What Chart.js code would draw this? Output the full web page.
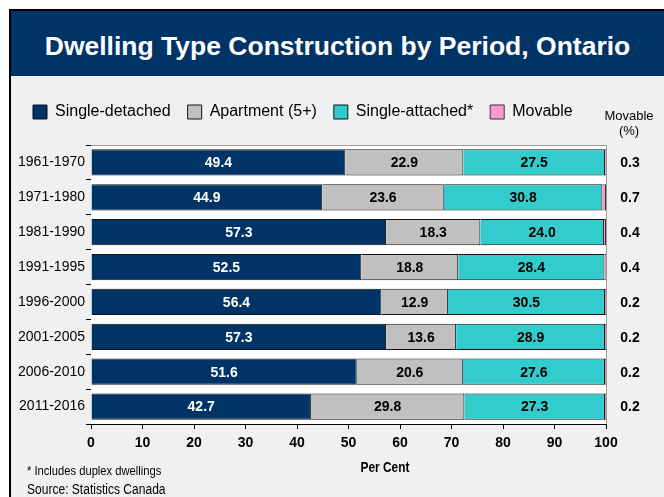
<!DOCTYPE html>
<html>
<head>
<meta charset="utf-8">
<script src="https://cdn.jsdelivr.net/npm/chart.js@4.4.0/dist/chart.umd.min.js"></script>
<style>
html,body{margin:0;padding:0;overflow:hidden;background:#fff;font-family:"Liberation Sans",Arial,sans-serif;}
#frame{position:absolute;left:9px;top:9px;width:655px;height:488px;border-left:2px solid #000;border-top:2px solid #000;background:#f0f0f0;}
#title{position:absolute;left:11px;top:11px;width:653px;height:65px;background:#003366;color:#fff;font-weight:bold;font-size:26.5px;line-height:71px;text-align:center;}
#graph{position:absolute;left:0;top:0;}
.note{position:absolute;left:27px;color:#000;white-space:nowrap;transform-origin:left center;transform:scaleX(0.86);}
#axisTitle{position:absolute;left:335px;width:100px;top:459px;text-align:center;font-weight:bold;font-size:14px;transform:scaleX(0.85);}
</style>
</head>
<body>
<div id="frame"></div>
<div id="title">Dwelling Type Construction by Period, Ontario</div>
<canvas id="graph" width="664" height="497"></canvas>
<div id="axisTitle">Per Cent</div>
<div class="note" style="top:463px;font-size:13px;">* Includes duplex dwellings</div>
<div class="note" style="top:481px;font-size:14px;">Source: Statistics Canada</div>
<script>
/*********************** data ***********************/
const periods = ['1961-1970', '1971-1980', '1981-1990', '1991-1995', '1996-2000', '2001-2005', '2006-2010', '2011-2016'];
const singleDetached = [49.4, 44.9, 57.3, 52.5, 56.4, 57.3, 51.6, 42.7];
const apartment = [22.9, 23.6, 18.3, 18.8, 12.9, 13.6, 20.6, 29.8];
const singleAttached = [27.5, 30.8, 24.0, 28.4, 30.5, 28.9, 27.6, 27.3];
const movable = [0.3, 0.7, 0.4, 0.4, 0.2, 0.2, 0.2, 0.2];

const fontFam = '"Liberation Sans", Arial, sans-serif';

/****************** white plot area ******************/
const plotArea = {
    id: 'plotArea',
    beforeDatasetsDraw(chart) {
        const {ctx, chartArea: a} = chart;
        ctx.save();
        ctx.fillStyle = '#fff';
        ctx.fillRect(a.left, a.top, a.right - a.left, a.bottom - a.top);
        ctx.strokeStyle = '#999';
        ctx.lineWidth = 1;
        ctx.beginPath();
        ctx.moveTo(a.left, a.top + 0.5);
        ctx.lineTo(a.right + 0.5, a.top + 0.5);
        ctx.lineTo(a.right + 0.5, a.bottom);
        ctx.stroke();
        ctx.restore();
    }
};

/****************** values inside bars ******************/
const barLabels = {
    id: 'barLabels',
    afterDatasetsDraw(chart) {
        const ctx = chart.ctx;
        ctx.save();
        ctx.font = 'bold 14px ' + fontFam;
        ctx.textAlign = 'center';
        ctx.textBaseline = 'middle';
        for (let d = 0; d < 3; d++) {
            const meta = chart.getDatasetMeta(d);
            ctx.fillStyle = d === 0 ? '#fff' : '#000';
            meta.data.forEach((bar, i) => {
                const v = chart.data.datasets[d].data[i];
                ctx.fillText(v.toFixed(1), (bar.x + bar.base) / 2, bar.y + 1);
            });
        }
        ctx.restore();
    }
};

/****************** movable column on the right ******************/
const movableColumn = {
    id: 'movableColumn',
    afterDraw(chart) {
        const {ctx, chartArea: a, scales} = chart;
        const cx = a.right + 24;
        ctx.save();
        ctx.textAlign = 'center';
        ctx.textBaseline = 'middle';
        ctx.fillStyle = '#000';
        ctx.font = '13px ' + fontFam;
        ctx.fillText('Movable', cx - 1, a.top - 29);
        ctx.fillText('(%)', cx - 1, a.top - 14);
        ctx.font = 'bold 14px ' + fontFam;
        movable.forEach((v, i) => {
            ctx.fillText(v.toFixed(1), cx, scales.y.getPixelForValue(i) + 1);
        });
        ctx.restore();
    }
};

/****************** extra room under legend ******************/
const legendSpace = {
    id: 'legendSpace',
    beforeInit(chart) {
        const fit = chart.legend.fit;
        chart.legend.fit = function () {
            fit.bind(chart.legend)();
            this.height += 15;
        };
    }
};

const ctx = document.getElementById('graph');
const graph = new Chart(ctx, {
    type: 'bar',
    data: {
        labels: periods,
        datasets: [{
            label: 'Single-detached',
            data: singleDetached,
            backgroundColor: '#003366',
            borderColor: '#111',
            borderWidth: 1
        }, {
            label: 'Apartment (5+)',
            data: apartment,
            backgroundColor: '#c0c0c0',
            borderColor: '#111',
            borderWidth: 1
        }, {
            label: 'Single-attached*',
            data: singleAttached,
            backgroundColor: '#33cccc',
            borderColor: '#111',
            borderWidth: 1
        }, {
            label: 'Movable',
            data: movable,
            backgroundColor: '#ff99cc',
            borderColor: '#333',
            borderWidth: 1
        }]
    },
    options: {
        indexAxis: 'y',
        responsive: false,
        animation: false,
        devicePixelRatio: 1,
        layout: {
            padding: {top: 87, left: 16, right: 58, bottom: 43}
        },
        datasets: {
            bar: {categoryPercentage: 1, barPercentage: 0.75}
        },
        plugins: {
            legend: {
                position: 'top',
                align: 'start',
                labels: {
                    boxWidth: 14,
                    boxHeight: 14,
                    padding: 17,
                    color: '#000',
                    font: {size: 16, family: fontFam}
                }
            },
            tooltip: {enabled: false}
        },
        scales: {
            x: {
                stacked: true,
                min: 0,
                max: 100,
                ticks: {
                    stepSize: 10,
                    color: '#000',
                    padding: 6,
                    font: {size: 14, weight: 'bold', family: fontFam}
                },
                grid: {drawOnChartArea: false, drawTicks: true, tickLength: 5, color: '#000'},
                border: {color: '#000'},
                afterFit(s) { s.height = 30; }
            },
            y: {
                stacked: true,
                ticks: {
                    color: '#000',
                    padding: 1,
                    font: {size: 14, family: fontFam}
                },
                grid: {drawOnChartArea: false, drawTicks: true, tickLength: 5, color: '#000', offset: true},
                border: {color: '#000'},
                afterFit(s) { s.width = 75; }
            }
        }
    },
    plugins: [plotArea, barLabels, movableColumn, legendSpace]
});
</script>
</body>
</html>
